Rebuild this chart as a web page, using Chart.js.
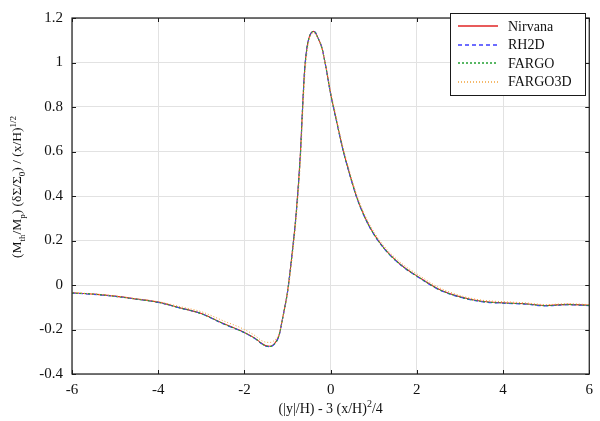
<!DOCTYPE html>
<html>
<head>
<meta charset="utf-8">
<script src="https://cdn.jsdelivr.net/npm/chart.js@4"></script>
<style>
  html, body { margin: 0; padding: 0; background: #ffffff; }
  #wrap { width: 600px; height: 421px; position: relative; }
</style>
</head>
<body>
<div id="wrap"><canvas id="c" width="600" height="421"></canvas></div>
<script>
// ---- data ----
const xVals = [-6,-5.5,-5,-4.5,-4,-3.5,-3,-2.5,-2,-1.75,-1.6,-1.5,-1.4,-1.3,-1.2,-1.1,-1.0,-0.9,-0.8,-0.7,-0.65,-0.6,-0.55,-0.5,-0.45,-0.4,-0.35,-0.3,-0.2,-0.1,0,0.1,0.2,0.3,0.4,0.6,0.8,1.0,1.25,1.5,1.75,2.0,2.5,3.0,3.5,4.0,4.5,5.0,5.5,6.0];
const nirvana = [-0.035,-0.041,-0.050,-0.063,-0.077,-0.102,-0.128,-0.172,-0.213,-0.240,-0.262,-0.273,-0.275,-0.263,-0.228,-0.135,-0.030,0.130,0.320,0.594,0.800,0.975,1.065,1.112,1.133,1.140,1.133,1.113,1.065,0.970,0.860,0.770,0.682,0.598,0.527,0.398,0.302,0.230,0.163,0.113,0.073,0.041,-0.018,-0.053,-0.073,-0.080,-0.084,-0.092,-0.087,-0.091];
const rh2d = [-0.036,-0.042,-0.051,-0.064,-0.078,-0.103,-0.129,-0.174,-0.215,-0.242,-0.264,-0.275,-0.277,-0.265,-0.230,-0.137,-0.032,0.128,0.318,0.592,0.798,0.974,1.064,1.112,1.134,1.141,1.134,1.113,1.064,0.968,0.858,0.768,0.680,0.596,0.525,0.396,0.300,0.228,0.161,0.111,0.071,0.039,-0.020,-0.055,-0.075,-0.082,-0.086,-0.094,-0.089,-0.093];
const fargo = [-0.036,-0.041,-0.051,-0.064,-0.078,-0.103,-0.129,-0.173,-0.214,-0.241,-0.263,-0.274,-0.276,-0.264,-0.229,-0.136,-0.031,0.129,0.319,0.593,0.799,0.974,1.064,1.111,1.133,1.140,1.133,1.112,1.064,0.969,0.859,0.769,0.681,0.597,0.526,0.397,0.301,0.229,0.162,0.112,0.072,0.040,-0.019,-0.054,-0.074,-0.081,-0.085,-0.093,-0.088,-0.092];
const fargo3d = [-0.034,-0.040,-0.049,-0.062,-0.075,-0.097,-0.120,-0.160,-0.200,-0.228,-0.250,-0.257,-0.258,-0.248,-0.222,-0.140,-0.040,0.110,0.295,0.555,0.755,0.935,1.040,1.100,1.125,1.133,1.130,1.113,1.058,0.975,0.870,0.782,0.693,0.610,0.538,0.408,0.312,0.240,0.172,0.122,0.082,0.050,-0.010,-0.047,-0.068,-0.075,-0.080,-0.088,-0.084,-0.088];
const seriesNames = ["Nirvana", "RH2D", "FARGO", "FARGO3D"];
const xTicks = [-6, -4, -2, 0, 2, 4, 6];
const yTicks = [-0.4, -0.2, 0, 0.2, 0.4, 0.6, 0.8, 1, 1.2];

// rich-text axis titles: [text, mode] where mode is '' | 'sub' | 'sup'
const yTitleParts = [["(M",""],["th","sub"],["/M",""],["p","sub"],[") (\u03B4\u03A3/\u03A3",""],["0","sub"],[") / (x/H)",""],["1/2","sup"]];
const xTitleParts = [["(|y|/H) - 3 (x/H)",""],["2","sup"],["/4",""]];

const FONT = "'Liberation Serif', 'Times New Roman', serif";

function pts(ys) { return xVals.map((x, i) => ({ x: x, y: ys[i] })); }

// order: lower value is drawn on top (gnuplot plots later series on top)
const styles = [
  { color: "#e02424", dash: [], width: 1.1, order: 4 },
  { color: "#3c3cff", dash: [4, 3], width: 1.1, order: 3 },
  { color: "#22a032", dash: [2, 2], width: 1.1, order: 2 },
  { color: "#f2a23a", dash: [1, 2], width: 1, order: 1 }
];
const allSeries = [nirvana, rh2d, fargo, fargo3d];

const datasets = allSeries.map((ys, i) => ({
  label: seriesNames[i],
  data: pts(ys),
  borderColor: styles[i].color,
  backgroundColor: styles[i].color,
  borderDash: styles[i].dash,
  borderWidth: styles[i].width,
  order: styles[i].order,
  pointRadius: 0,
  fill: false,
  cubicInterpolationMode: "monotone"
}));

function fmt(v) { return String(Number(v.toFixed(2))); }

function measureRich(ctx, parts, size) {
  let w = 0;
  const items = parts.map(([t, mode]) => {
    const fs = mode ? Math.round(size * 0.7) : size;
    ctx.font = fs + "px " + FONT;
    const tw = ctx.measureText(t).width;
    const it = { t, mode, fs, tw, off: w };
    w += tw;
    return it;
  });
  return { w, items };
}
function renderRich(ctx, parts, size, cx, cy) {
  const { w, items } = measureRich(ctx, parts, size);
  ctx.textBaseline = "alphabetic";
  ctx.textAlign = "left";
  const x0 = cx - w / 2;
  const base = cy + size * 0.33;
  items.forEach(it => {
    ctx.font = it.fs + "px " + FONT;
    let dy = 0;
    if (it.mode === "sub") dy = size * 0.28;
    if (it.mode === "sup") dy = -size * 0.42;
    ctx.fillText(it.t, x0 + it.off, base + dy);
  });
}

const framePlugin = {
  id: "frame",
  afterDraw(chart) {
    const ctx = chart.ctx;
    const a = chart.chartArea;
    const xs = chart.scales.x, ys = chart.scales.y;
    ctx.save();
    ctx.strokeStyle = "#1a1a1a";
    ctx.lineWidth = 1.2;
    ctx.strokeRect(a.left, a.top, a.right - a.left, a.bottom - a.top);
    // inward ticks on all four sides
    ctx.lineWidth = 1;
    const L = 4;
    xTicks.forEach(v => {
      const px = Math.round(xs.getPixelForValue(v)) + 0.5;
      ctx.beginPath();
      ctx.moveTo(px, a.bottom); ctx.lineTo(px, a.bottom - L);
      ctx.moveTo(px, a.top); ctx.lineTo(px, a.top + L);
      ctx.stroke();
    });
    yTicks.forEach(v => {
      const py = Math.round(ys.getPixelForValue(v)) + 0.5;
      ctx.beginPath();
      ctx.moveTo(a.left, py); ctx.lineTo(a.left + L, py);
      ctx.moveTo(a.right, py); ctx.lineTo(a.right - L, py);
      ctx.stroke();
    });
    // axis titles
    ctx.fillStyle = "#111";
    renderRich(ctx, xTitleParts, 14, (a.left + a.right) / 2, 408);
    ctx.save();
    ctx.translate(17, (a.top + a.bottom) / 2 - 9);
    ctx.rotate(-Math.PI / 2);
    renderRich(ctx, yTitleParts, 13.5, 0, 0);
    ctx.restore();
    // legend box
    const bx = 450, by = 13, bw = 135, bh = 82;
    ctx.fillStyle = "#ffffff";
    ctx.fillRect(bx, by, bw, bh);
    ctx.strokeStyle = "#1a1a1a";
    ctx.lineWidth = 1;
    ctx.strokeRect(bx + 0.5, by + 0.5, bw, bh);
    seriesNames.forEach((name, i) => {
      const yy = 26 + i * 18.5;
      const st = styles[i];
      ctx.save();
      ctx.strokeStyle = st.color;
      ctx.setLineDash(st.dash);
      ctx.lineWidth = 1.5;
      ctx.beginPath();
      ctx.moveTo(458, Math.round(yy));
      ctx.lineTo(498, Math.round(yy));
      ctx.stroke();
      ctx.restore();
      ctx.fillStyle = "#111";
      ctx.font = "14px " + FONT;
      ctx.textAlign = "left";
      ctx.textBaseline = "middle";
      ctx.fillText(name, 508, yy + 1);
    });
    ctx.restore();
  }
};

new Chart(document.getElementById("c"), {
  type: "line",
  data: { datasets: datasets },
  plugins: [framePlugin],
  options: {
    responsive: false,
    animation: false,
    devicePixelRatio: 1,
    layout: { padding: { top: 8, right: 7, bottom: 0, left: 0 } },
    plugins: { legend: { display: false }, title: { display: false }, tooltip: { enabled: false } },
    scales: {
      x: {
        type: "linear", min: -6, max: 6,
        afterBuildTicks(s) { s.ticks = xTicks.map(v => ({ value: v })); },
        afterFit(s) { s.height = 47; },
        grid: { color: "#e2e2e2", lineWidth: 1, drawTicks: false },
        border: { display: false },
        ticks: { padding: 7, color: "#111", font: { family: FONT, size: 15 }, callback: v => fmt(v), maxRotation: 0 }
      },
      y: {
        type: "linear", min: -0.4, max: 1.2,
        afterBuildTicks(s) { s.ticks = yTicks.map(v => ({ value: v })); },
        afterFit(s) { s.width = 72; },
        grid: { color: "#e2e2e2", lineWidth: 1, drawTicks: false },
        border: { display: false },
        ticks: { padding: 9, color: "#111", font: { family: FONT, size: 15 }, callback: v => fmt(v) }
      }
    }
  }
});
</script>
</body>
</html>
